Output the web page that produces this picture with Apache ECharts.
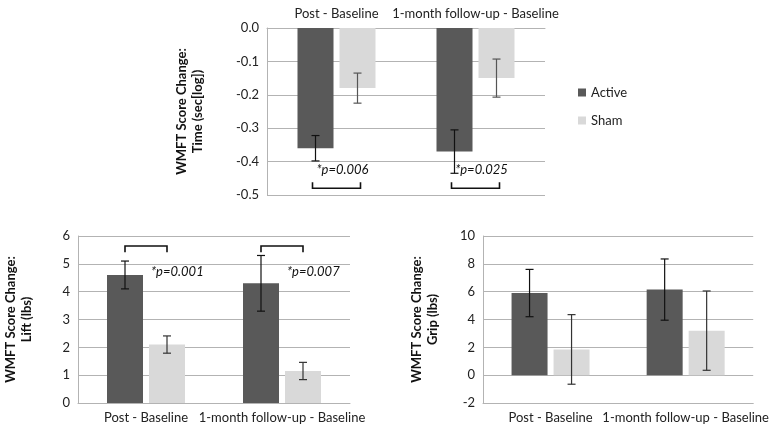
<!DOCTYPE html>
<html><head><meta charset="utf-8">
<script src="https://cdn.jsdelivr.net/npm/echarts@6/dist/echarts.min.js"></script>
<style>html,body{margin:0;padding:0;background:#fff}#c{width:771px;height:428px}</style>
</head><body><div id="c"></div>
<script>
const categories = ['Post - Baseline', '1-month follow-up - Baseline'];
const seriesNames = ['Active', 'Sham'];

const timeActive = [-0.36, -0.37];
const timeActiveErr = [0.038, 0.065];
const timeSham = [-0.18, -0.15];
const timeShamErr = [0.045, 0.057];
const timeTicks = { min: -0.5, max: 0, interval: 0.1 };
const timeP = ['*p=0.006', '*p=0.025'];
const timePY = [-0.425, -0.425];
const timeBracket = [[-0.48, -0.462], [-0.48, -0.462]];

const liftActive = [4.6, 4.3];
const liftActiveErr = [0.5, 1.0];
const liftSham = [2.1, 1.15];
const liftShamErr = [0.31, 0.31];
const liftTicks = { min: 0, max: 6, interval: 1 };
const liftP = ['*p=0.001', '*p=0.007'];
const liftPY = [4.7, 4.7];
const liftBracket = [[5.64, 5.42], [5.64, 5.42]];

const gripActive = [5.9, 6.15];
const gripActiveErr = [1.7, 2.2];
const gripSham = [1.85, 3.2];
const gripShamErr = [2.5, 2.85];
const gripTicks = { min: -2, max: 10, interval: 2 };

const FONT = 'Lato';
const BW = 36, GAP = 6, OFF = (BW + GAP) / 2;
const cActive = '#595959', cSham = '#d9d9d9';
const gridColor = '#b3b3b3';

function errSeries(idx, vals, errs, offset, color) {
  return {
    type: 'custom', xAxisIndex: idx, yAxisIndex: idx, z: 5, silent: true,
    data: vals.map((v, i) => [i, v, errs[i]]),
    encode: { x: 0, y: 1 },
    renderItem: function (params, api) {
      const c = api.coord([api.value(0), api.value(1)]);
      const hi = api.coord([api.value(0), api.value(1) + api.value(2)]);
      const lo = api.coord([api.value(0), api.value(1) - api.value(2)]);
      const x = c[0] + offset, cap = 4;
      const st = { stroke: color, lineWidth: 1.2 };
      return { type: 'group', children: [
        { type: 'line', shape: { x1: x, y1: hi[1], x2: x, y2: lo[1] }, style: st },
        { type: 'line', shape: { x1: x - cap, y1: hi[1], x2: x + cap, y2: hi[1] }, style: st },
        { type: 'line', shape: { x1: x - cap, y1: lo[1], x2: x + cap, y2: lo[1] }, style: st }
      ]};
    }
  };
}
function bracketSeries(idx, br, x1off, x2off) {
  return {
    type: 'custom', xAxisIndex: idx, yAxisIndex: idx, z: 5, silent: true,
    data: br.map((b, i) => [i, b[0], b[1]]),
    encode: { x: 0, y: 1 },
    renderItem: function (params, api) {
      const a = api.coord([api.value(0), api.value(1)]);
      const t = api.coord([api.value(0), api.value(2)]);
      const xa = a[0] + x1off, xb = a[0] + x2off;
      return { type: 'polyline', shape: { points: [[xa, t[1]], [xa, a[1]], [xb, a[1]], [xb, t[1]]] },
        style: { stroke: '#111', lineWidth: 1.6, fill: null } };
    }
  };
}
function textSeries(idx, labels, ys, xoff, align) {
  return {
    type: 'custom', xAxisIndex: idx, yAxisIndex: idx, z: 5, silent: true,
    data: ys.map((y, i) => [i, y]),
    encode: { x: 0, y: 1 },
    renderItem: function (params, api) {
      const p = api.coord([api.value(0), api.value(1)]);
      return { type: 'text', x: p[0] + xoff, y: p[1],
        style: { text: labels[params.dataIndex], fill: '#111', font: 'italic 13px ' + FONT, align: align, verticalAlign: 'middle' } };
    }
  };
}
function barSeries(idx, name, vals, color) {
  return { type: 'bar', name: name, xAxisIndex: idx, yAxisIndex: idx, data: vals, barWidth: BW, barGap: (GAP / BW * 100) + '%',
    itemStyle: { color: color }, silent: true };
}
function xAxis(idx, pos) {
  return { type: 'category', gridIndex: idx, data: categories, position: pos,
    axisLine: { show: true, onZero: false, lineStyle: { color: gridColor } }, axisTick: { show: false },
    axisLabel: { color: '#222', fontFamily: FONT, fontSize: 13, margin: 8, interval: 0 } };
}
function yAxis(idx, ticks, name, gap, fmt) {
  return { type: 'value', gridIndex: idx, min: ticks.min, max: ticks.max, interval: ticks.interval,
    axisLine: { show: true, lineStyle: { color: gridColor } }, axisTick: { show: false },
    splitLine: { lineStyle: { color: gridColor } },
    axisLabel: { color: '#222', fontFamily: FONT, fontSize: 13, margin: 8, formatter: fmt },
    name: name, nameLocation: 'middle', nameRotate: 90, nameGap: gap,
    nameTextStyle: { fontFamily: FONT, fontSize: 13, fontWeight: 'bold', color: '#111', lineHeight: 16, align: 'center' } };
}

const chart = echarts.init(document.getElementById('c'), null, { renderer: 'canvas' });
chart.setOption({
  animation: false,
  backgroundColor: '#fff',
  grid: [
    { left: 267, right: 226, top: 28, bottom: 233 },
    { left: 78, right: 421, top: 236, bottom: 25 },
    { left: 483, right: 14, top: 236, bottom: 25 }
  ],
  legend: { data: seriesNames, orient: 'vertical', left: 573, top: 81, itemWidth: 8, itemHeight: 8, itemGap: 15,
    icon: 'rect', textStyle: { fontFamily: FONT, fontSize: 13, color: '#222' } },
  xAxis: [xAxis(0, 'top'), xAxis(1, 'bottom'), xAxis(2, 'bottom')],
  yAxis: [
    yAxis(0, timeTicks, 'WMFT Score Change:\nTime (sec[log])', 61, v => v.toFixed(1)),
    yAxis(1, liftTicks, 'WMFT Score Change:\nLift (lbs)', 43, v => String(v)),
    yAxis(2, gripTicks, 'WMFT Score Change:\nGrip (lbs)', 42, v => String(v))
  ],
  series: [
    barSeries(0, 'Active', timeActive, cActive), barSeries(0, 'Sham', timeSham, cSham),
    barSeries(1, 'Active', liftActive, cActive), barSeries(1, 'Sham', liftSham, cSham),
    barSeries(2, 'Active', gripActive, cActive), barSeries(2, 'Sham', gripSham, cSham),
    errSeries(0, timeActive, timeActiveErr, -OFF, '#111'), errSeries(0, timeSham, timeShamErr, OFF, '#555'),
    errSeries(1, liftActive, liftActiveErr, -OFF, '#111'), errSeries(1, liftSham, liftShamErr, OFF, '#333'),
    errSeries(2, gripActive, gripActiveErr, -OFF, '#111'), errSeries(2, gripSham, gripShamErr, OFF, '#333'),
    bracketSeries(0, timeBracket, -OFF - 3, OFF + 3),
    bracketSeries(1, liftBracket, -OFF, OFF),
    textSeries(0, timeP, timePY, 6, 'center'),
    textSeries(1, liftP, liftPY, 5, 'left')
  ]
});
</script></body></html>
